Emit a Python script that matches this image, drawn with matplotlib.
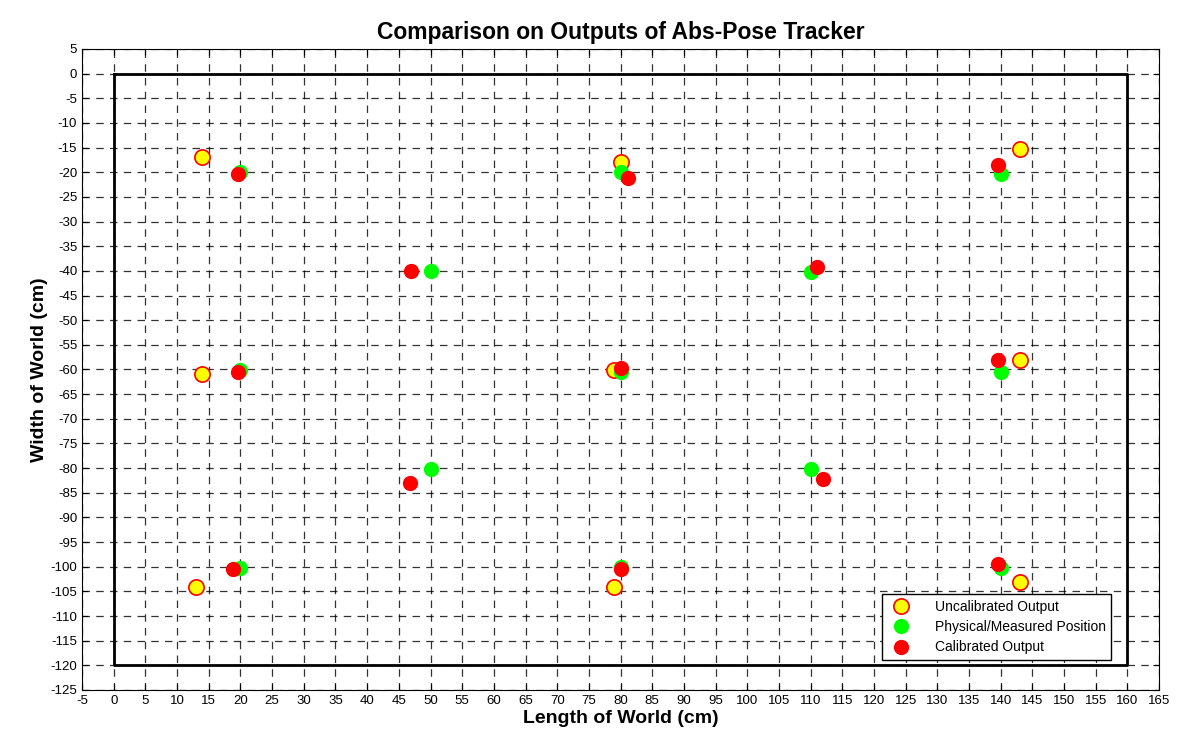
import numpy as np
import matplotlib
matplotlib.use("Agg")
from matplotlib import pyplot as plt

plt.rcParams["font.family"] = ["Liberation Sans", "DejaVu Sans"]
plt.rcParams["axes.unicode_minus"] = False

# world boundary (cm)
box_x = [0, 160, 160, 0, 0]
box_y = [0, 0, -120, -120, 0]

# uncalibrated tracker output
unc_x = [14, 80, 143, 14, 79, 143, 13, 79, 143]
unc_y = [-17, -18, -15.3, -61, -60.2, -58, -104.2, -104.2, -103]

# physical / measured positions
phy_x = [20, 80, 140, 50, 110, 20, 80, 140, 50, 110, 20, 80, 140]
phy_y = [-20, -20, -20.3, -40, -40.3, -60.2, -60.6, -60.5, -80.2, -80.2, -100.2, -100, -100.3]

# calibrated output
cal_x = [19.6, 81.1, 139.6, 46.9, 111, 19.6, 80, 139.6, 46.8, 111.9, 18.8, 80, 139.6]
cal_y = [-20.3, -21.2, -18.6, -40.1, -39.3, -60.6, -59.8, -58.1, -83.1, -82.3, -100.4, -100.4, -99.4]

fig = plt.figure(figsize=(11.91, 7.42), dpi=100)
ax = fig.add_axes([0.0689, 0.0701, 0.9043, 0.8639])

ax.plot(box_x, box_y, color="black", linewidth=2, zorder=2)
ax.plot(unc_x, unc_y, "o", markersize=11, markerfacecolor="#ffff00",
        markeredgecolor="#ff0000", markeredgewidth=1.2, label="Uncalibrated Output", zorder=3)
ax.plot(phy_x, phy_y, "o", markersize=11, color="#00ff00", markeredgewidth=0,
        label="Physical/Measured Position", zorder=4)
ax.plot(cal_x, cal_y, "o", markersize=11, color="#ff0000", markeredgewidth=0,
        label="Calibrated Output", zorder=5)

ax.set_xlim(-5, 165)
ax.set_ylim(-125, 5)
ax.set_xticks(np.arange(-5, 166, 5))
ax.set_yticks(np.arange(-125, 6, 5))
ax.tick_params(direction="in", labelsize=9.5, length=4, top=True, right=True)
ax.grid(True, color="black", linestyle=(0, (6, 5)), linewidth=0.9, alpha=0.8)
ax.set_axisbelow(True)

ax.set_title("Comparison on Outputs of Abs-Pose Tracker", fontsize=16.5, fontweight="bold", pad=7)
ax.set_xlabel("Length of World (cm)", fontsize=14, fontweight="bold", labelpad=2)
ax.set_ylabel("Width of World (cm)", fontsize=14, fontweight="bold", labelpad=2)

leg = ax.legend(loc="lower right", bbox_to_anchor=(0.962, 0.036), fontsize=10,
                frameon=True, fancybox=False, edgecolor="black", framealpha=1,
                borderpad=0.4, handletextpad=1.4, labelspacing=0.45)
leg.get_frame().set_linewidth(1)

fig.savefig("out.png", dpi=100)
